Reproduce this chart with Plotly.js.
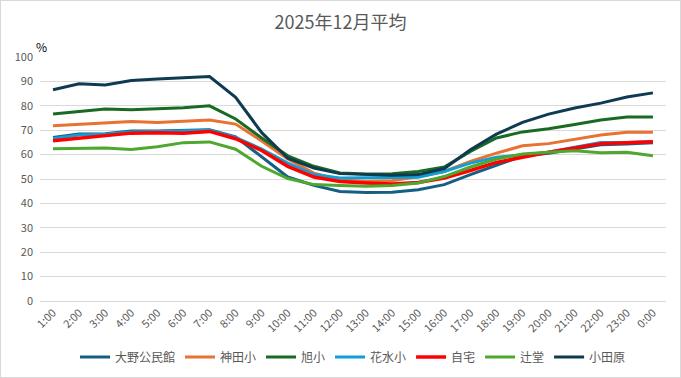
<!DOCTYPE html>
<html>
<head>
<meta charset="utf-8">
<script src="https://cdn.plot.ly/plotly-3.0.1.min.js"></script>
<style>
  html, body { margin: 0; padding: 0; background: #fff; }
  #chart { width: 681px; height: 378px; }
  #frame { position: absolute; left: 0; top: 0; width: 679px; height: 376px; border: 1px solid #d9d9d9; pointer-events: none; }
</style>
</head>
<body>
<div id="chart"></div>
<div id="frame"></div>
<script>
const hours = ["1:00","2:00","3:00","4:00","5:00","6:00","7:00","8:00","9:00","10:00","11:00","12:00",
               "13:00","14:00","15:00","16:00","17:00","18:00","19:00","20:00","21:00","22:00","23:00","0:00"];

const seriesNames = ["大野公民館","神田小","旭小","花水小","自宅","辻堂","小田原"];

const ohno     = [67.0,68.4,68.5,69.7,69.7,69.9,70.2,67.3,59.0,50.8,47.4,44.9,44.5,44.6,45.6,47.7,51.8,55.6,59.5,60.6,62.4,64.0,64.3,64.9];
const kanda    = [71.8,72.3,73.0,73.6,73.2,73.8,74.2,72.5,65.6,58.2,52.4,49.7,49.0,49.3,51.0,53.1,57.2,60.6,63.6,64.5,66.4,68.0,69.2,69.2];
const asahi    = [76.6,77.7,78.7,78.4,78.7,79.2,80.0,74.6,66.8,59.5,55.2,52.5,52.0,52.2,53.1,54.9,61.3,66.8,69.3,70.6,72.3,74.2,75.4,75.4];
const hanamizu = [66.6,68.0,68.3,69.3,69.5,69.8,70.0,67.0,62.3,56.5,51.8,50.4,50.4,50.4,50.7,53.1,56.5,58.9,60.0,61.0,63.0,65.0,65.0,65.4];
const jitaku   = [65.7,66.8,67.9,68.8,69.0,68.8,69.5,66.5,61.7,55.2,50.8,49.0,48.4,48.0,48.6,50.4,53.5,56.8,58.9,61.0,62.7,64.5,64.9,65.3];
const tsujido  = [62.4,62.7,62.7,62.1,63.2,64.9,65.2,62.2,55.2,50.2,47.7,47.3,47.0,47.3,48.4,51.0,54.9,58.2,60.2,61.0,61.6,60.8,61.0,59.5];
const odawara  = [86.6,89.0,88.5,90.4,91.0,91.6,92.0,83.5,69.0,58.5,54.5,52.2,51.8,51.5,51.8,54.3,62.0,68.4,73.2,76.6,79.1,81.1,83.6,85.3];

const seriesValues = [ohno, kanda, asahi, hanamizu, jitaku, tsujido, odawara];
const seriesColors = ["#156082","#E97132","#196B24","#0F9ED5","#FF0000","#4EA72E","#0E3B52"];
const seriesWidths = [3,3,3,3,3.5,3,3];

const yTicks = [0,10,20,30,40,50,60,70,80,90,100];

const traces = seriesNames.map((name, i) => ({
  type: "scatter",
  mode: "lines",
  name: name,
  x: hours,
  y: seriesValues[i],
  line: { color: seriesColors[i], width: seriesWidths[i] },
  hoverinfo: "x+y+name"
}));

const layout = {
  width: 681,
  height: 378,
  margin: { l: 40, r: 15, t: 57, b: 77, autoexpand: false },
  paper_bgcolor: "#ffffff",
  plot_bgcolor: "#ffffff",
  font: { family: "'Noto Sans CJK JP', 'Liberation Sans', sans-serif", color: "#595959", size: 12 },
  title: {
    text: "2025年12月平均",
    x: 0.5, xanchor: "center",
    y: 0.94, yanchor: "middle",
    font: { size: 18, color: "#595959" }
  },
  xaxis: {
    type: "category",
    range: [-0.5, 23.5],
    tickangle: -45,
    automargin: false,
    showgrid: false,
    showline: true,
    linecolor: "#d9d9d9",
    linewidth: 1,
    ticks: "",
    tickfont: { size: 11, color: "#595959" },
    fixedrange: true
  },
  yaxis: {
    range: [0, 100],
    tickvals: yTicks,
    ticktext: yTicks.map(String),
    automargin: false,
    showgrid: true,
    gridcolor: "#d9d9d9",
    gridwidth: 1,
    zeroline: false,
    showline: false,
    ticks: "",
    ticklen: 0,
    ticklabelstandoff: 6,
    tickfont: { size: 11, color: "#595959" },
    fixedrange: true
  },
  showlegend: true,
  legend: {
    orientation: "h",
    x: 0.5, xanchor: "center",
    y: -0.2295, yanchor: "middle",
    yref: "paper",
    itemwidth: 30,
    traceorder: "normal",
    font: { size: 12, color: "#595959" }
  },
  annotations: [{
    text: "%",
    xref: "paper", yref: "paper",
    x: 0.003, y: 1.041,
    xanchor: "center", yanchor: "middle",
    showarrow: false,
    font: { size: 12, color: "#000000" }
  }]
};

Plotly.newPlot("chart", traces, layout, { displayModeBar: false, staticPlot: true });
</script>
</body>
</html>
